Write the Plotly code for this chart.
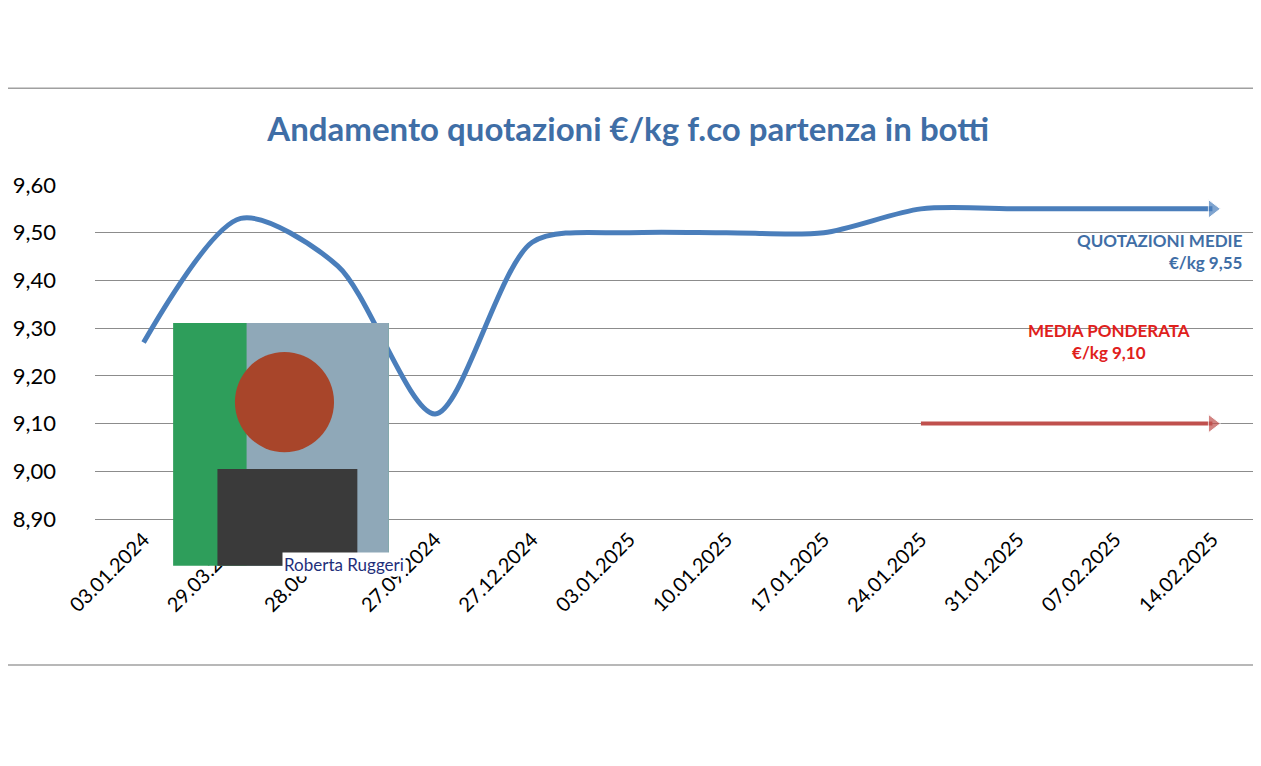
import plotly.graph_objects as go

dates = ["03.01.2024", "29.03.2024", "28.06.2024", "27.09.2024", "27.12.2024",
         "03.01.2025", "10.01.2025", "17.01.2025", "24.01.2025", "31.01.2025",
         "07.02.2025", "14.02.2025"]
quotazioni = [9.27, 9.53, 9.43, 9.12, 9.48, 9.50, 9.50, 9.50, 9.55, 9.55, 9.55, 9.55]
media_dates = ["24.01.2025", "14.02.2025"]
media_ponderata = [9.10, 9.10]

blue = "#4a7ebb"
red = "#c0504d"
font = "Lato, Liberation Sans, sans-serif"

fig = go.Figure()
fig.add_trace(go.Scatter(x=dates, y=quotazioni, mode="lines+markers",
                         line=dict(color=blue, width=5, shape="spline", smoothing=0.8),
                         marker=dict(symbol="triangle-right", size=[0]*11 + [16], color=blue),
                         hoverinfo="skip"))
fig.add_trace(go.Scatter(x=media_dates, y=media_ponderata, mode="lines+markers",
                         line=dict(color=red, width=4),
                         marker=dict(symbol="triangle-right", size=[0, 16], color=red),
                         hoverinfo="skip"))

# page border lines
for yy in [1.29, -0.437]:
    fig.add_shape(type="line", xref="paper", yref="paper", x0=-0.082, x1=1.01, y0=yy, y1=yy,
                  line=dict(color="#a0a0a0", width=1.5))

# photo placeholder
fig.add_shape(type="rect", xref="paper", yref="paper", x0=0.067, x1=0.252, y0=-0.14, y1=0.587,
              fillcolor="#2e9e5b", line=dict(width=0), layer="above")
fig.add_shape(type="rect", xref="paper", yref="paper", x0=0.13, x1=0.252, y0=-0.14, y1=0.587,
              fillcolor="#8fa8b8", line=dict(width=0), layer="above")
fig.add_shape(type="circle", xref="paper", yref="paper", x0=0.12, x1=0.205, y0=0.2, y1=0.5,
              fillcolor="#a8452a", line=dict(width=0), layer="above")
fig.add_shape(type="rect", xref="paper", yref="paper", x0=0.105, x1=0.225, y0=-0.14, y1=0.15,
              fillcolor="#3a3a3a", line=dict(width=0), layer="above")
fig.add_annotation(text="Roberta Ruggeri", xref="paper", yref="paper", x=0.16, y=-0.175,
                   showarrow=False, bgcolor="white",
                   font=dict(family=font, size=17, color="#1f2f7a"))

fig.add_annotation(text="<b>QUOTAZIONI MEDIE<br>€/kg 9,55</b>", xref="paper", yref="paper",
                   x=0.986, y=0.87, xanchor="right", align="right", showarrow=False,
                   font=dict(family=font, size=17, color="#3f6ea6"))
fig.add_annotation(text="<b>MEDIA PONDERATA<br>€/kg 9,10</b>", xref="paper", yref="paper",
                   x=0.87, y=0.53, xanchor="center", align="center", showarrow=False,
                   font=dict(family=font, size=17, color="#e0201b"))

fig.update_layout(
    width=1253, height=758,
    margin=dict(l=87, r=0, t=177, b=247),
    paper_bgcolor="white", plot_bgcolor="white",
    showlegend=False, separators=",.",
    title=dict(text="<b>Andamento quotazioni €/kg f.co partenza in botti</b>",
               x=0.495, xanchor="center", y=0.84, yanchor="middle",
               font=dict(family=font, size=33, color="#3f6ea6")),
    font=dict(family=font, size=20, color="black"),
)
fig.update_xaxes(type="category", range=[-0.5, 11.5], tickangle=-45, showgrid=False,
                 showline=True, linecolor="#8c8c8c", ticks="", tickfont=dict(size=20))
fig.update_yaxes(range=[8.9, 9.6], dtick=0.1, tickformat=".2f", showgrid=True,
                 gridcolor="#8c8c8c", gridwidth=1.3, zeroline=False, ticks="",
                 ticklabelstandoff=38, tickfont=dict(size=22))

fig.write_html("out.html")
